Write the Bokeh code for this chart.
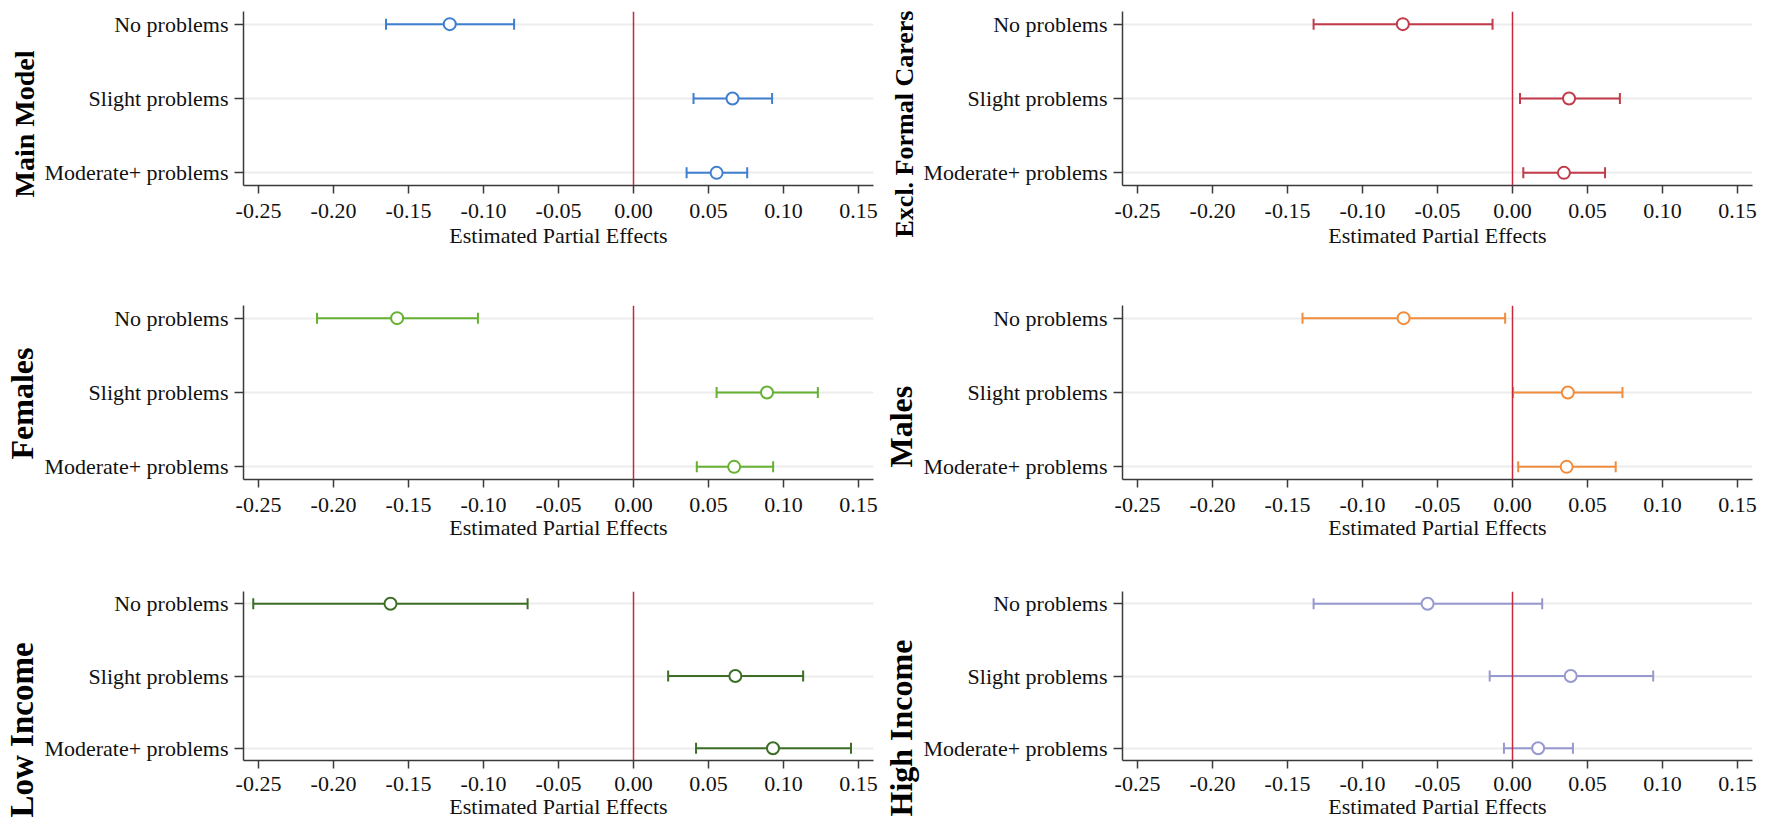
import math
from bokeh.plotting import figure
from bokeh.models import Range1d, FixedTicker, PrintfTickFormatter, Span, Title
from bokeh.layouts import column, row
from bokeh.embed import file_html
from bokeh.resources import INLINE

# ---------------- data ----------------
categories = ["No problems", "Slight problems", "Moderate+ problems"]
x_ticks = [-0.25, -0.20, -0.15, -0.10, -0.05, 0.00, 0.05, 0.10, 0.15]
x_title = "Estimated Partial Effects"

main_est = [-0.1225, 0.0660, 0.0554]
main_lo = [-0.1650, 0.0400, 0.0354]
main_hi = [-0.0796, 0.0924, 0.0758]

excl_est = [-0.0731, 0.0377, 0.0343]
excl_lo = [-0.1326, 0.0050, 0.0072]
excl_hi = [-0.0133, 0.0716, 0.0617]

fem_est = [-0.1576, 0.0890, 0.0671]
fem_lo = [-0.2110, 0.0554, 0.0422]
fem_hi = [-0.1037, 0.1229, 0.0931]

male_est = [-0.0726, 0.0369, 0.0361]
male_lo = [-0.1400, 0.0004, 0.0038]
male_hi = [-0.0049, 0.0733, 0.0688]

low_est = [-0.1620, 0.0679, 0.0930]
low_lo = [-0.2535, 0.0231, 0.0417]
low_hi = [-0.0706, 0.1131, 0.1450]

high_est = [-0.0566, 0.0388, 0.0171]
high_lo = [-0.1326, -0.0152, -0.0057]
high_hi = [0.0198, 0.0938, 0.0403]

# ---------------- styling ----------------
FONT = "Liberation Serif"
ZERO_RED = "#c8283c"
AXIS_COL = "#3a3a3a"

n = len(categories)
cat_pos = {c: n - i for i, c in enumerate(categories)}   # top-to-bottom
ys = [cat_pos[c] for c in categories]


def panel(title, est, lo, hi, color, width, height, b_top, b_bottom, b_right,
          title_size, title_offset, lab_standoff, ttl_standoff):
    p = figure(width=width, height=height,
               x_range=Range1d(-0.26, 0.16), y_range=Range1d(0.83, 3.17),
               output_backend="svg", toolbar_location=None,
               min_border_left=243, min_border_right=b_right,
               min_border_top=b_top, min_border_bottom=b_bottom)
    p.outline_line_color = None
    p.background_fill_color = "white"
    p.border_fill_color = "white"

    # grid
    p.xgrid.visible = False
    p.ygrid.ticker = FixedTicker(ticks=ys)
    p.ygrid.grid_line_color = "#ececec"
    p.ygrid.grid_line_width = 2

    # x axis
    xa = p.xaxis[0]
    xa.ticker = FixedTicker(ticks=x_ticks)
    xa.formatter = PrintfTickFormatter(format="%.2f")
    xa.axis_label = x_title
    xa.axis_label_text_font = FONT
    xa.axis_label_text_font_style = "normal"
    xa.axis_label_text_font_size = "22px"
    xa.axis_label_text_color = "#111111"
    xa.axis_label_standoff = ttl_standoff
    xa.major_label_text_font = FONT
    xa.major_label_text_font_size = "22px"
    xa.major_label_text_color = "#111111"
    xa.major_label_standoff = lab_standoff
    xa.major_tick_out = 8
    xa.major_tick_in = 0
    xa.minor_tick_out = 0
    xa.minor_tick_in = 0
    xa.axis_line_color = AXIS_COL
    xa.axis_line_width = 1.5
    xa.major_tick_line_color = AXIS_COL
    xa.major_tick_line_width = 1.5

    # y axis
    ya = p.yaxis[0]
    ya.ticker = FixedTicker(ticks=ys)
    ya.major_label_overrides = {cat_pos[c]: c for c in categories}
    ya.major_label_text_font = FONT
    ya.major_label_text_font_size = "22px"
    ya.major_label_text_color = "#111111"
    ya.major_label_standoff = 6
    ya.major_tick_out = 9
    ya.major_tick_in = 0
    ya.minor_tick_out = 0
    ya.minor_tick_in = 0
    ya.axis_line_color = AXIS_COL
    ya.axis_line_width = 1.5
    ya.major_tick_line_color = AXIS_COL
    ya.major_tick_line_width = 1.5

    # error bars
    p.segment(x0=lo, y0=ys, x1=hi, y1=ys, line_color=color, line_width=2)
    p.scatter(x=lo + hi, y=ys + ys, marker="dash", angle=math.pi / 2,
              size=11, line_color=color, line_width=2)
    p.scatter(x=est, y=ys, marker="circle", size=12, fill_color="white",
              line_color=color, line_width=2)

    # zero line
    p.add_layout(Span(location=0, dimension="height", line_color=ZERO_RED,
                      line_width=1.5))

    # panel title (rotated, at far left); align="left" = anchored at bottom
    p.add_layout(Title(text=title, align="left", offset=title_offset,
                       standoff=3, text_font=FONT, text_font_style="bold",
                       text_font_size=title_size, text_color="black"), "left")
    return p


WL, WR = 879, 890
p1 = panel("Main Model", main_est, main_lo, main_hi, "#3f7fd0",
           WL, 255, 11, 70, 6, "28px", -12, 10, 2)
p2 = panel("Excl. Formal Carers", excl_est, excl_lo, excl_hi, "#c23b4a",
           WR, 255, 11, 70, 17, "26px", -52, 10, 2)
p3 = panel("Females", fem_est, fem_lo, fem_hi, "#66b032",
           WL, 294, 50, 70, 6, "32px", 20, 10, 0)
p4 = panel("Males", male_est, male_lo, male_hi, "#f08c3c",
           WR, 294, 50, 70, 17, "32px", 12, 10, 0)
p5 = panel("Low Income", low_est, low_lo, low_hi, "#3e6e26",
           WL, 277, 42, 66, 6, "33px", -57, 8, 0)
p6 = panel("High Income", high_est, high_lo, high_hi, "#9898d0",
           WR, 277, 42, 66, 17, "32px", -56, 8, 0)

layout = column(row(p1, p2), row(p3, p4), row(p5, p6))

open("out.html", "w").write(file_html(layout, INLINE))
